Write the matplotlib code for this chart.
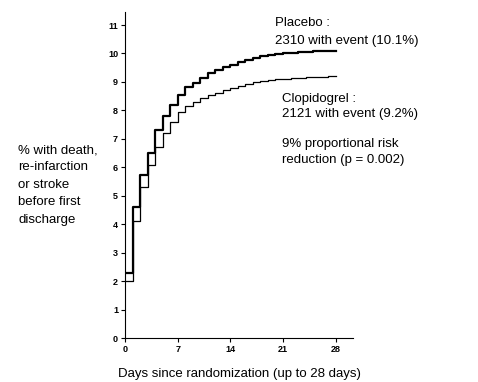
import matplotlib
matplotlib.use('Agg')
import matplotlib.pyplot as plt

plt.rcParams['font.family'] = ['Liberation Sans', 'DejaVu Sans']

# cumulative event rate (%) per day, days 0..27 (held to day 28)
days = list(range(0, 29))
placebo = [2.3, 4.6, 5.72, 6.52, 7.3, 7.8, 8.18, 8.54, 8.81, 8.95, 9.15, 9.31,
           9.43, 9.54, 9.6, 9.7, 9.78, 9.84, 9.9, 9.93, 9.97, 10.0, 10.02,
           10.04, 10.05, 10.07, 10.08, 10.1]
clopidogrel = [2.0, 4.1, 5.32, 6.08, 6.72, 7.2, 7.6, 7.95, 8.15, 8.3, 8.44,
               8.54, 8.62, 8.72, 8.8, 8.87, 8.93, 8.99, 9.04, 9.07, 9.1, 9.12,
               9.14, 9.15, 9.17, 9.18, 9.19, 9.21]
xticks = [0, 7, 14, 21, 28]
yticks = list(range(0, 12))

fig = plt.figure(figsize=(4.78, 3.82), dpi=100)
ax = fig.add_axes([0.2615, 0.115, 0.477, 0.853])

ax.step(days, placebo + placebo[-1:], where='post', color='black', lw=1.6)
ax.step(days, clopidogrel + clopidogrel[-1:], where='post', color='black', lw=0.9)

ax.set_xlim(0, 30.3)
ax.set_ylim(0, 11.45)
ax.set_xticks(xticks)
ax.set_yticks(yticks)
ax.tick_params(labelsize=6.5, length=3, width=0.8, pad=2)
for lbl in ax.get_xticklabels() + ax.get_yticklabels():
    lbl.set_fontweight('bold')
for s in ['top', 'right']:
    ax.spines[s].set_visible(False)

ax.set_xlabel('Days since randomization (up to 28 days)', fontsize=9.5, labelpad=10)

fig.text(0.038, 0.623, '% with death,\nre-infarction\nor stroke\nbefore first\ndischarge',
         fontsize=9.5, va='top', ha='left', linespacing=1.6)
fig.text(0.575, 0.955, 'Placebo :\n2310 with event (10.1%)', fontsize=9.5,
         va='top', ha='left', linespacing=1.6)
fig.text(0.59, 0.757, 'Clopidogrel :\n2121 with event (9.2%)', fontsize=9.5,
         va='top', ha='left', linespacing=1.4)
fig.text(0.59, 0.638, '9% proportional risk\nreduction (p = 0.002)', fontsize=9.5,
         va='top', ha='left', linespacing=1.4)

fig.savefig('out.png', dpi=100)
